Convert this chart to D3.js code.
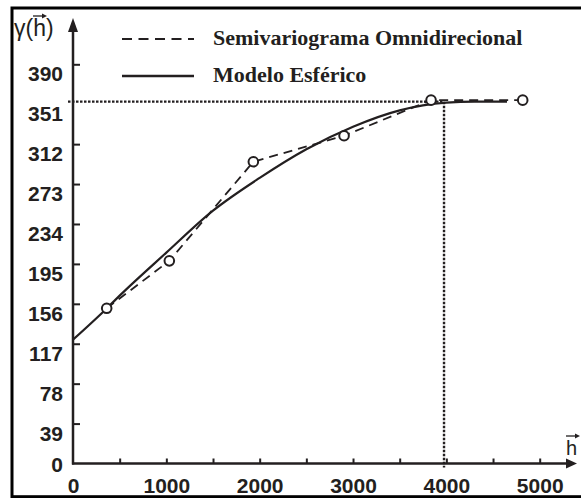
<!DOCTYPE html>
<html>
<head>
<meta charset="utf-8">
<script src="https://cdn.jsdelivr.net/npm/d3@7"></script>
<style>
  html, body { margin: 0; padding: 0; background: #fff; }
  svg { display: block; }
</style>
</head>
<body>
<svg id="chart" width="581" height="498"></svg>
<script>
// experimental semivariogram (lag h, gamma)
const lags = [361, 1032, 1932, 2904, 3836, 4818];
const gammaExp = [151.6, 198, 294.8, 320.2, 355, 355];

// spherical model
const modelH = [0, 361, 500, 1000, 1500, 2000, 2500, 3000, 3500, 4000, 4300, 4650];
const modelGamma = [121, 151.5, 164, 206, 247, 279, 307, 329, 345, 352.5, 353.5, 353.5];

// dotted guide: range and sill
const rangeH = 3975;
const sillGamma = 353.5;

const xTicks = [500, 1000, 1500, 2000, 2500, 3000, 3500, 4000, 4500, 5000];
const xLabels = [0, 1000, 2000, 3000, 4000, 5000];
const yTicks = [0, 39, 78, 117, 156, 195, 234, 273, 312, 351, 390];

const legendItems = ['Semivariograma Omnidirecional', 'Modelo Esférico'];

const ink = '#231f20';
const svg = d3.select('#chart');

const x = d3.scaleLinear().domain([0, 5000]).range([73, 539.7]);
const y = d3.scaleLinear().domain([0, 390]).range([463.5, 64.3]);

// frame
svg.append('rect')
  .attr('x', 12).attr('y', 8)
  .attr('width', 585).attr('height', 488.7)
  .attr('fill', 'none')
  .attr('stroke', '#000')
  .attr('stroke-width', 3);

// dotted guides
const guides = svg.append('g')
  .attr('stroke', ink)
  .attr('stroke-width', 2.4)
  .attr('stroke-dasharray', '2.5,1.5')
  .attr('fill', 'none');
guides.append('line')
  .attr('x1', x(0) - 5).attr('x2', x(rangeH))
  .attr('y1', y(sillGamma)).attr('y2', y(sillGamma));
guides.append('line')
  .attr('x1', x(rangeH)).attr('x2', x(rangeH))
  .attr('y1', y(sillGamma)).attr('y2', y(0) + 4);

// x axis
const xAxis = svg.append('g')
  .attr('transform', `translate(0,${y(0)})`)
  .call(d3.axisBottom(x)
    .tickValues(xTicks.concat([0]))
    .tickSizeInner(-5)
    .tickSizeOuter(0)
    .tickPadding(14.5)
    .tickFormat(d => xLabels.includes(d) ? d : ''));
xAxis.select('.domain').remove();
xAxis.selectAll('.tick line')
  .attr('stroke', ink)
  .attr('stroke-width', 2)
  .attr('opacity', d => d === 0 ? 0 : 1);
xAxis.selectAll('text')
  .attr('fill', ink)
  .style('font', 'bold 21px "Liberation Sans", Arial, sans-serif');

// y axis
const yAxis = svg.append('g')
  .attr('transform', `translate(${x(0)},0)`)
  .call(d3.axisLeft(y)
    .tickValues(yTicks)
    .tickSizeInner(-7)
    .tickSizeOuter(0)
    .tickPadding(10));
yAxis.select('.domain').remove();
yAxis.selectAll('.tick line')
  .attr('stroke', ink)
  .attr('stroke-width', 2)
  .attr('opacity', d => (d === 0 || d === 351) ? 0 : 1);
yAxis.selectAll('text')
  .attr('fill', ink)
  .attr('dy', null)
  .attr('y', d => d === 0 ? 7.5 : 16.5)
  .style('font', 'bold 21px "Liberation Sans", Arial, sans-serif');

// axis lines with arrowheads
const axes = svg.append('g').attr('fill', ink).attr('stroke', ink);
axes.append('line')
  .attr('x1', x(0) - 1).attr('x2', 568)
  .attr('y1', y(0)).attr('y2', y(0))
  .attr('stroke-width', 2.5);
axes.append('path')
  .attr('d', `M577,${y(0)} L566,${y(0) - 5} L566,${y(0) + 5} Z`)
  .attr('stroke', 'none');
axes.append('line')
  .attr('x1', x(0)).attr('x2', x(0))
  .attr('y1', y(0) + 1).attr('y2', 28)
  .attr('stroke-width', 2.5);
axes.append('path')
  .attr('d', `M${x(0)},18 L${x(0) - 5},32 L${x(0) + 5},32 Z`)
  .attr('stroke', 'none');

// axis titles
const title = svg.append('g').attr('fill', ink)
  .style('font', '23px "Liberation Sans", Arial, sans-serif');
title.append('text')
  .attr('x', 14).attr('y', 36)
  .text('γ(h)');
const vec = (x1, x2, yy) => {
  title.append('line')
    .attr('x1', x1).attr('x2', x2 - 3)
    .attr('y1', yy).attr('y2', yy)
    .attr('stroke', ink).attr('stroke-width', 1.3);
  title.append('path')
    .attr('d', `M${x2},${yy} L${x2 - 5},${yy - 2.5} L${x2 - 5},${yy + 2.5} Z`);
};
vec(33, 47, 16);
title.append('text')
  .attr('x', 566).attr('y', 455)
  .style('font-size', '20px')
  .text('h');
vec(566, 580, 436);

// model curve
const line = d3.line()
  .x(d => x(d[0]))
  .y(d => y(d[1]));

svg.append('path')
  .datum(modelH.map((h, i) => [h, modelGamma[i]]))
  .attr('d', line.curve(d3.curveMonotoneX))
  .attr('fill', 'none')
  .attr('stroke', ink)
  .attr('stroke-width', 2.2);

// experimental semivariogram
const expPts = lags.map((h, i) => [h, gammaExp[i]]);
svg.append('path')
  .datum(expPts)
  .attr('d', d3.line().x(d => x(d[0])).y(d => y(d[1])))
  .attr('fill', 'none')
  .attr('stroke', ink)
  .attr('stroke-width', 1.8)
  .attr('stroke-dasharray', '9,6');

svg.append('g')
  .selectAll('circle')
  .data(expPts)
  .join('circle')
  .attr('cx', d => x(d[0]))
  .attr('cy', d => y(d[1]))
  .attr('r', 4.8)
  .attr('fill', '#fff')
  .attr('stroke', ink)
  .attr('stroke-width', 2);

// legend
const legend = svg.append('g')
  .style('font', 'bold 22px "Liberation Serif", "Times New Roman", serif')
  .attr('fill', ink);
legendItems.forEach((label, i) => {
  const ly = [39, 76][i];
  legend.append('line')
    .attr('x1', 122).attr('x2', 194)
    .attr('y1', ly).attr('y2', ly)
    .attr('stroke', ink)
    .attr('stroke-width', i === 0 ? 2 : 2.5)
    .attr('stroke-dasharray', i === 0 ? '10,6.5' : null);
  legend.append('text')
    .attr('x', 213)
    .attr('y', ly + 6)
    .text(label);
});
</script>
</body>
</html>
